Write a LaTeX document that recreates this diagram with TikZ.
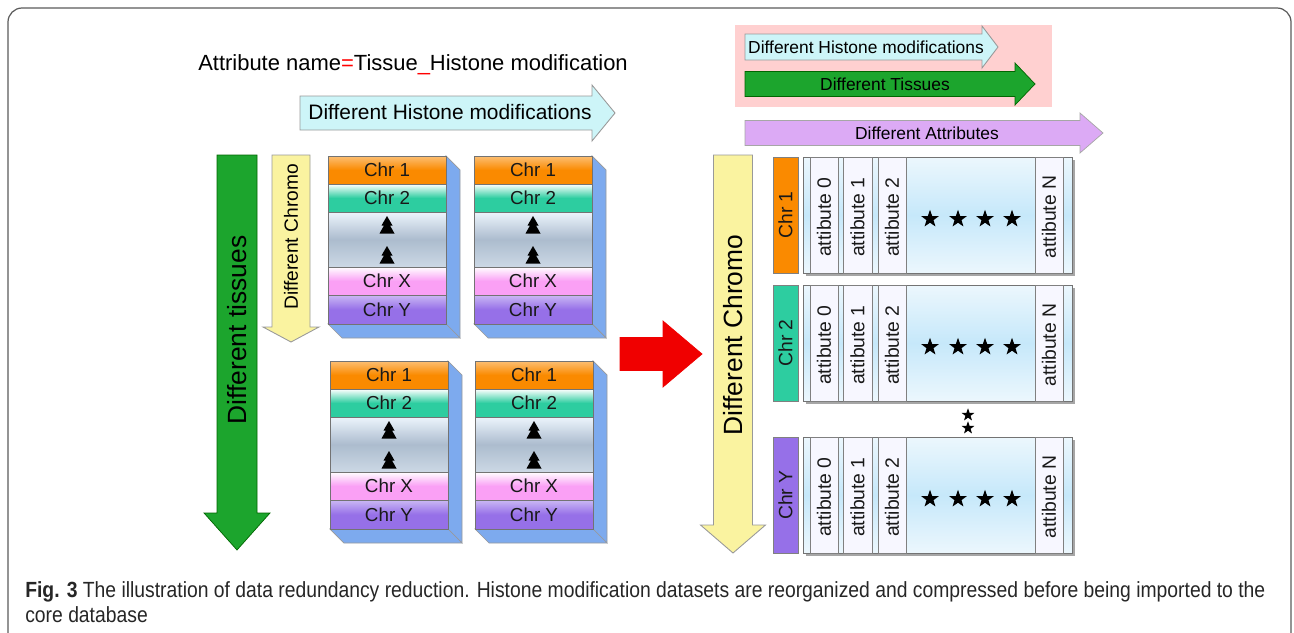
\documentclass[tikz,border=0pt]{standalone}
\usepackage{fontspec}
\setmainfont{Liberation Sans}
\usepackage{tikz}
\usetikzlibrary{shapes}
\definecolor{chrone}{RGB}{250,138,0}
\definecolor{chrtwo}{RGB}{45,205,160}
\definecolor{chrx}{RGB}{250,160,245}
\definecolor{chry}{RGB}{150,112,232}
\definecolor{gapgray}{RGB}{172,188,206}
\definecolor{gaphi}{RGB}{236,244,252}
\definecolor{sideblue}{RGB}{125,170,238}
\definecolor{cyanfill}{RGB}{205,245,248}
\definecolor{yellowfill}{RGB}{250,243,160}
\definecolor{greenfill}{RGB}{28,165,45}
\definecolor{redfill}{RGB}{240,0,0}
\definecolor{pinkbg}{RGB}{255,208,208}
\definecolor{lavfill}{RGB}{220,170,245}
\definecolor{panelblue}{RGB}{198,232,250}
\definecolor{panelhi}{RGB}{236,247,253}
\definecolor{framegray}{RGB}{90,90,90}
\tikzstyle{sideface}=[fill=sideblue, draw=gray!80, line width=0.4pt]
\tikzstyle{bandline}=[draw=gray!90!black, line width=0.5pt]
\tikzstyle{chrtext}=[font=\fontsize{10.7}{12}\selectfont, text=black!90, inner sep=0pt]
\tikzstyle{chrlabel}=[font=\fontsize{11}{12}\selectfont, text=black!90, inner sep=0pt]
\tikzstyle{attrlabel}=[font=\fontsize{11}{12}\selectfont, text=black!90, inner sep=0pt]
\tikzstyle{attrbox}=[fill=white!97!blue, draw=gray, line width=0.5pt]
\tikzstyle{starmark}=[star, star points=5, star point ratio=2.5, fill=black, inner sep=0pt, minimum size=0.37cm]
\tikzstyle{starsmall}=[starmark, minimum size=0.27cm]
\newcommand{\harrow}[7]{\filldraw[#1] (#2,{#4-#5}) -- ({#3-#7},{#4-#5}) -- ({#3-#7},{#4-#6}) -- (#3,#4) -- ({#3-#7},{#4+#6}) -- ({#3-#7},{#4+#5}) -- (#2,{#4+#5}) -- cycle;}
\newcommand{\varrow}[7]{\filldraw[#1] ({#2-#5},#3) -- ({#2-#5},{#4-#7}) -- ({#2-#6},{#4-#7}) -- (#2,#4) -- ({#2+#6},{#4-#7}) -- ({#2+#5},{#4-#7}) -- ({#2+#5},#3) -- cycle;}
\newcommand{\firmark}[2]{\fill[black] (#1,{#2-9}) -- ({#1+5.5},{#2+0.5}) -- ({#1+3},{#2+0.5}) -- ({#1+7.5},{#2+8.5}) -- ({#1-7.5},{#2+8.5}) -- ({#1-3},{#2+0.5}) -- ({#1-5.5},{#2+0.5}) -- cycle;}
\newcommand{\chrstack}[3]{%
  \begin{scope}[shift={(#2,#3)}]
    \filldraw[sideface] (118,0) -- (132,14) -- (132,182) -- (118,168) -- cycle;
    \filldraw[sideface] (0,168) -- (14,182) -- (132,182) -- (118,168) -- cycle;
    \shade[top color=chrone!55, bottom color=chrone, middle color=chrone] (0,0) rectangle (118,28);
    \shade[top color=white, bottom color=chrtwo, middle color=chrtwo] (0,28) rectangle (118,56);
    \shade[top color=gaphi, bottom color=gaphi!50!gapgray, middle color=gapgray] (0,56) rectangle (118,111);
    \shade[top color=white, bottom color=chrx, middle color=chrx] (0,111) rectangle (118,139);
    \shade[top color=chry!50, bottom color=chry, middle color=chry] (0,139) rectangle (118,168);
    \draw[bandline] (0,0) rectangle (118,168);
    \draw[bandline] (0,28) -- (118,28) (0,56) -- (118,56) (0,111) -- (118,111) (0,139) -- (118,139);
    \firmark{59}{69}
    \firmark{59}{99}
    \node[chrtext] (#1-c1) at (59,14) {Chr 1};
    \node[chrtext] (#1-c2) at (59,42) {Chr 2};
    \node[chrtext] (#1-cx) at (59,125) {Chr X};
    \node[chrtext] (#1-cy) at (59,154) {Chr Y};
  \end{scope}}
\newcommand{\attrrow}[4]{%
  \begin{scope}[shift={(0,#2)}]
    \fill[black!35] (806,3) rectangle (1075,119);
    \shade[top color=panelhi, bottom color=panelhi, middle color=panelblue] (803,0) rectangle (1072,116);
    \draw[bandline] (803,0) rectangle (1072,116);
    \filldraw[fill=#4, draw=gray] (773,0) rectangle (798,116);
    \node[chrlabel, rotate=90] (#1-chr) at (785.5,58) {#3};
    \filldraw[attrbox] (810,0) rectangle (838,116);
    \filldraw[attrbox] (843,0) rectangle (872,116);
    \filldraw[attrbox] (878,0) rectangle (906,116);
    \filldraw[attrbox] (1035,0) rectangle (1063,116);
    \node[attrlabel, rotate=90] (#1-a0) at (824,60) {attibute 0};
    \node[attrlabel, rotate=90] (#1-a1) at (857.5,60) {attibute 1};
    \node[attrlabel, rotate=90] (#1-a2) at (892,60) {attibute 2};
    \node[attrlabel, rotate=90] (#1-an) at (1049,60) {attibute N};
    \node[starmark] (#1-s1) at (930,62) {};
    \node[starmark] (#1-s2) at (958,62) {};
    \node[starmark] (#1-s3) at (985,62) {};
    \node[starmark] (#1-s4) at (1012,62) {};
  \end{scope}}

\begin{document}
\begin{tikzpicture}[x=0.02cm, y=-0.02cm]
        \tikzstyle{cyanarrow}=[fill=cyanfill, draw=gray!80, line width=0.5pt]
        \tikzstyle{greenarrow}=[fill=greenfill, draw=green!40!black, line width=0.4pt]
        \tikzstyle{yellowarrow}=[fill=yellowfill, draw=gray!80, line width=0.5pt]
        \tikzstyle{redarrow}=[fill=redfill, draw=redfill]
        \tikzstyle{lavarrow}=[fill=lavfill, draw=gray!70, line width=0.4pt]
        \tikzstyle{titletext}=[font=\fontsize{12.5}{14}\selectfont, inner sep=0pt]
        \tikzstyle{midtext}=[font=\fontsize{11.9}{14}\selectfont, inner sep=0pt]
        \tikzstyle{bigtext}=[font=\fontsize{15}{17}\selectfont, inner sep=0pt]
        \tikzstyle{smalltext}=[font=\fontsize{9.9}{12}\selectfont, inner sep=0pt]
        \tikzstyle{captext}=[font=\fontsize{12.5}{14}\selectfont, text=black!85, inner sep=0pt, anchor=base west, xscale=0.88]
        \useasboundingbox (0,0) rectangle (1294,632);
        \draw[framegray, line width=0.7pt, rounded corners=8] (8,640) -- (8,8) -- (1291,8) -- (1291,640);
        % left half
        \node[titletext] (title) at (413,65) {Attribute name\textcolor{red}{=}Tissue\textcolor{red}{\_}Histone modification};
        \harrow{cyanarrow}{300}{615}{113}{17}{28}{23}
        \node[midtext] (histmod) at (450,112) {Different Histone modifications};
        \varrow{greenarrow}{237}{155}{550}{20}{33}{37}
        \node[bigtext, rotate=90] (tissues) at (237,330) {Different tissues};
        \varrow{yellowarrow}{291}{155}{342}{19}{28}{15}
        \node[midtext, font=\fontsize{10.9}{12}\selectfont, rotate=90] (chromoleft) at (291,237) {Different Chromo};
        \chrstack{sa}{328}{156}
        \chrstack{sb}{474}{156}
        \chrstack{sc}{330}{361}
        \chrstack{sd}{475}{361}
        \harrow{redarrow}{620}{702}{354}{16.5}{33}{39}
        % right half
        \fill[pinkbg] (735,25) rectangle (1052,107);
        \harrow{cyanarrow}{745}{998}{47}{13}{21}{16}
        \node[smalltext] (histmod2) at (866,47) {Different Histone modifications};
        \harrow{greenarrow}{745}{1035}{84}{12.5}{21}{20}
        \node[smalltext] (tissues2) at (885,84) {Different Tissues};
        \harrow{lavarrow}{745}{1103}{133}{12.5}{20}{23}
        \node[smalltext] (attrs) at (927,133) {Different Attributes};
        \varrow{yellowarrow}{733}{155}{553}{19.5}{32.5}{28}
        \node[bigtext, rotate=90] (chromoright) at (733,335) {Different Chromo};
        \attrrow{ra}{157}{Chr 1}{chrone}
        \attrrow{rb}{285}{Chr 2}{chrtwo}
        \attrrow{rc}{437}{Chr Y}{chry}
        \node[starsmall] (gap1) at (968,415) {};
        \node[starsmall] (gap2) at (968,428) {};
        % caption
        \node[captext] (cap1) at (25,597) {\textbf{Fig. 3} The illustration of data redundancy reduction. Histone modification datasets are reorganized and compressed before being imported to the};
        \node[captext] (cap2) at (25,622) {core database};
\end{tikzpicture}
\end{document}
